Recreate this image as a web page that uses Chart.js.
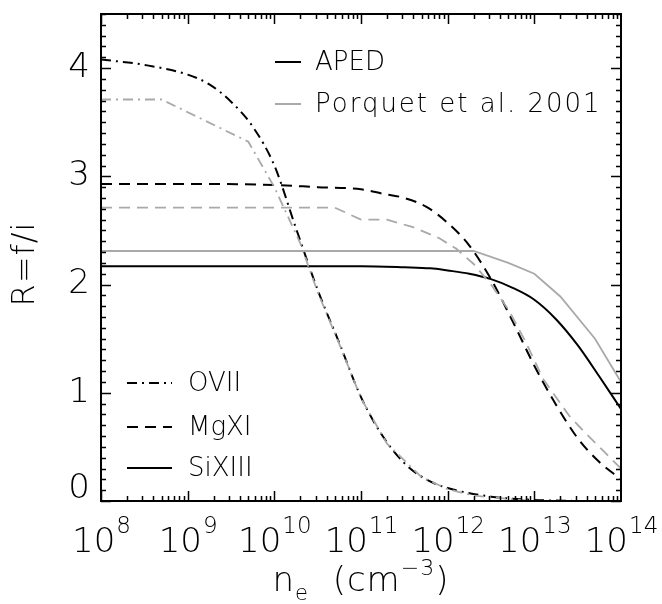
<!DOCTYPE html>
<html>
<head>
<meta charset="utf-8">
<script src="https://cdn.jsdelivr.net/npm/chart.js@4.4.1/dist/chart.umd.min.js"></script>
<style>
  html, body { margin: 0; padding: 0; background: #fff; }
  canvas { display: block; }
</style>
</head>
<body>
<canvas id="c" width="662" height="604"></canvas>
<script>
// log10(n_e) positions and R = f/i values
const oviiApedLogNe = [8.0, 8.5, 9.0, 9.25, 9.5, 9.75, 10.0, 10.25, 10.5, 10.75, 11.0, 11.25, 11.5, 11.75, 12.0, 12.5, 13.0, 13.5];
const oviiApedR     = [4.08, 4.03, 3.94, 3.85, 3.69, 3.46, 3.10, 2.52, 1.95, 1.46, 0.96, 0.60, 0.35, 0.20, 0.12, 0.04, 0.01, 0.0];

const oviiPorquetLogNe = [8.0, 8.7, 9.7, 10.0, 10.3, 10.5, 10.75, 11.0, 11.3, 11.7, 12.0, 12.3, 12.7, 13.0];
const oviiPorquetR     = [3.71, 3.71, 3.32, 2.90, 2.38, 1.93, 1.45, 0.95, 0.53, 0.22, 0.11, 0.05, 0.02, 0.0];

const mgxiApedLogNe = [8.0, 9.0, 10.0, 10.5, 11.0, 11.25, 11.5, 11.75, 12.0, 12.25, 12.5, 12.75, 13.0, 13.25, 13.5, 13.75, 14.0];
const mgxiApedR     = [2.93, 2.93, 2.92, 2.90, 2.88, 2.84, 2.80, 2.72, 2.57, 2.36, 2.05, 1.66, 1.25, 0.89, 0.58, 0.36, 0.20];

const mgxiPorquetLogNe = [8.0, 10.7, 11.0, 11.3, 11.6, 11.9, 12.1, 12.3, 12.5, 12.7, 12.9, 13.1, 13.4, 13.6, 13.8, 14.0];
const mgxiPorquetR     = [2.71, 2.71, 2.60, 2.60, 2.53, 2.43, 2.33, 2.19, 2.00, 1.77, 1.47, 1.13, 0.79, 0.62, 0.46, 0.30];

const sixiiiApedLogNe = [8.0, 11.0, 11.5, 11.8, 12.0, 12.25, 12.5, 12.75, 13.0, 13.25, 13.5, 13.75, 14.0];
const sixiiiApedR     = [2.17, 2.17, 2.16, 2.15, 2.13, 2.10, 2.05, 1.97, 1.86, 1.68, 1.44, 1.15, 0.85];

const sixiiiPorquetLogNe = [8.0, 12.3, 12.7, 13.0, 13.3, 13.7, 14.0];
const sixiiiPorquetR     = [2.31, 2.31, 2.20, 2.10, 1.89, 1.50, 1.10];

const xExponents = [8, 9, 10, 11, 12, 13, 14];
const yTickValues = [0, 1, 2, 3, 4];
const ionNames = ['OVII', 'MgXI', 'SiXIII'];
const sourceNames = ['APED', 'Porquet et al. 2001'];

const GRAY = '#a9a9a9';
const FONT = '"DejaVu Sans", "Liberation Sans", sans-serif';
const W = '200 ';
const DASHDOT = [10, 5, 2, 5];
const DASHED = [11, 7];

const toPoints = (logs, vals) => logs.map((l, i) => ({ x: Math.pow(10, l), y: vals[i] }));

const series = (label, logs, vals, color, dash, smooth) => ({
  label: label,
  data: toPoints(logs, vals),
  borderColor: color,
  borderWidth: color === GRAY ? 1.8 : 2,
  borderDash: dash,
  pointRadius: 0,
  showLine: true,
  fill: false,
  cubicInterpolationMode: smooth ? 'monotone' : 'default',
  tension: 0,
});

const datasets = [
  series('OVII Porquet', oviiPorquetLogNe, oviiPorquetR, GRAY, DASHDOT, false),
  series('MgXI Porquet', mgxiPorquetLogNe, mgxiPorquetR, GRAY, DASHED, false),
  series('SiXIII Porquet', sixiiiPorquetLogNe, sixiiiPorquetR, GRAY, [], false),
  series('OVII APED', oviiApedLogNe, oviiApedR, '#000', DASHDOT, true),
  series('MgXI APED', mgxiApedLogNe, mgxiApedR, '#000', DASHED, true),
  series('SiXIII APED', sixiiiApedLogNe, sixiiiApedR, '#000', [], true),
];

// frame, inward ticks, labels and the two in-plot legends
const decorations = {
  id: 'decorations',
  afterDatasetsDraw(chart) {
    const { ctx, chartArea: a, scales: { x, y } } = chart;
    ctx.save();
    ctx.strokeStyle = '#000';
    ctx.fillStyle = '#000';
    ctx.setLineDash([]);

    // ticks
    ctx.lineWidth = 1.5;
    ctx.beginPath();
    for (let e = xExponents[0]; e < xExponents[xExponents.length - 1]; e++) {
      for (let k = 1; k < 10; k++) {
        const px = Math.round(x.getPixelForValue(k * Math.pow(10, e))) + 0.5;
        const len = k === 1 ? 10 : 5;
        ctx.moveTo(px, a.bottom); ctx.lineTo(px, a.bottom - len);
        ctx.moveTo(px, a.top); ctx.lineTo(px, a.top + len);
      }
    }
    for (let i = 0; i <= 45; i++) {
      const py = Math.round(y.getPixelForValue(i / 10)) + 0.5;
      const len = i % 10 === 0 ? 10 : 5;
      ctx.moveTo(a.left, py); ctx.lineTo(a.left + len, py);
      ctx.moveTo(a.right, py); ctx.lineTo(a.right - len, py);
    }
    ctx.stroke();

    // frame
    ctx.lineWidth = 2;
    ctx.strokeRect(a.left, a.top, a.right - a.left, a.bottom - a.top);

    // y tick labels
    ctx.font = W + '34px ' + FONT;
    ctx.textAlign = 'right';
    ctx.textBaseline = 'middle';
    yTickValues.forEach(v => {
      let py = y.getPixelForValue(v);
      if (v === 0) py -= 12;
      ctx.fillText(String(v), a.left - 11, py);
    });

    // x tick labels 10^n
    ctx.textAlign = 'left';
    ctx.textBaseline = 'alphabetic';
    xExponents.forEach(e => {
      const px = x.getPixelForValue(Math.pow(10, e));
      ctx.font = W + '34px ' + FONT;
      const wb = ctx.measureText('10').width;
      ctx.font = W + '23px ' + FONT;
      const we = ctx.measureText(String(e)).width;
      const left = px - (wb + we) / 2;
      ctx.font = W + '34px ' + FONT;
      ctx.fillText('10', left, 552);
      ctx.font = W + '23px ' + FONT;
      ctx.fillText(String(e), left + wb + 1, 533);
    });

    // x title: n_e (cm^-3)
    const parts = [
      { t: 'n', f: 34, dy: 0 },
      { t: 'e', f: 21, dy: 9 },
      { t: '  (cm', f: 34, dy: 0 },
      { t: '\u22123', f: 22, dy: -16 },
      { t: ')', f: 34, dy: 0 },
    ];
    ctx.letterSpacing = '1px';
    let total = 0;
    parts.forEach(p => { ctx.font = W + p.f + 'px ' + FONT; p.w = ctx.measureText(p.t).width; total += p.w; });
    let cx = (a.left + a.right) / 2 - total / 2;
    parts.forEach(p => {
      ctx.font = W + p.f + 'px ' + FONT;
      ctx.fillText(p.t, cx, 591 + p.dy);
      cx += p.w;
    });
    ctx.letterSpacing = '0px';

    // y title
    ctx.save();
    ctx.translate(26, 264);
    ctx.rotate(-Math.PI / 2);
    ctx.textAlign = 'center';
    ctx.textBaseline = 'middle';
    ctx.font = W + '32px ' + FONT;
    ctx.letterSpacing = '1px';
    ctx.fillText('R=f/i', 0, 0);
    ctx.restore();

    // legends
    const legendLine = (x0, x1, yy, color, dash) => {
      ctx.save();
      ctx.strokeStyle = color;
      ctx.lineWidth = 2;
      ctx.setLineDash(dash);
      ctx.beginPath();
      ctx.moveTo(x0, yy); ctx.lineTo(x1, yy);
      ctx.stroke();
      ctx.restore();
    };
    ctx.textAlign = 'left';
    ctx.textBaseline = 'middle';
    ctx.font = W + '26px ' + FONT;
    legendLine(275, 301, 62, '#000', []);
    ctx.fillText(sourceNames[0], 315, 63);
    legendLine(275, 301, 104, GRAY, []);
    ctx.letterSpacing = '2px';
    ctx.fillText(sourceNames[1], 315, 105);
    ctx.letterSpacing = '0px';

    const ionDash = [DASHDOT, DASHED, []];
    const ionY = [383, 427, 468];
    ionNames.forEach((n, i) => {
      legendLine(127, 172, ionY[i], '#000', ionDash[i]);
      ctx.fillText(n, 188, ionY[i] + 1);
    });

    ctx.restore();
  }
};

new Chart(document.getElementById('c'), {
  type: 'scatter',
  data: { datasets: datasets },
  options: {
    responsive: false,
    animation: false,
    devicePixelRatio: 1,
    layout: { padding: { left: 101, right: 41, top: 14, bottom: 103 } },
    plugins: { legend: { display: false }, tooltip: { enabled: false } },
    scales: {
      x: {
        type: 'logarithmic',
        min: 1e8,
        max: 1e14,
        grid: { display: false },
        border: { display: false },
        ticks: { display: false },
        afterFit: s => { s.height = 0; },
      },
      y: {
        type: 'linear',
        min: 0,
        max: 4.5,
        grid: { display: false },
        border: { display: false },
        ticks: { display: false },
        afterFit: s => { s.width = 0; },
      },
    },
  },
  plugins: [decorations],
});
</script>
</body>
</html>
